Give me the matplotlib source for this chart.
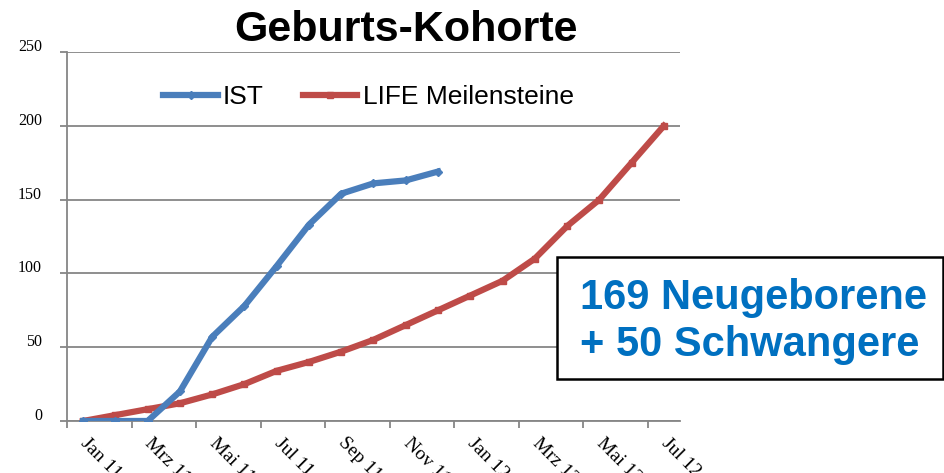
import matplotlib.pyplot as plt
from matplotlib.patches import Rectangle
from matplotlib.transforms import ScaledTranslation

# Monate (Jan 11 bis Jul 12)
monate = ["Jan 11", "Feb 11", "Mrz 11", "Apr 11", "Mai 11", "Jun 11", "Jul 11",
          "Aug 11", "Sep 11", "Okt 11", "Nov 11", "Dez 11", "Jan 12", "Feb 12",
          "Mrz 12", "Apr 12", "Mai 12", "Jun 12", "Jul 12"]

# Ist-Werte (bis Dez 11)
ist = [0, 0, 0, 20, 57, 78, 105, 133, 154, 161, 163, 169]

# Geplante Meilensteine
life = [0, 4, 8, 12, 18, 25, 34, 40, 47, 55, 65, 75, 85, 95, 110, 132, 150, 175, 200]

blau = "#4A7EBB"
rot = "#BE4B48"
grau = "#868686"

fig = plt.figure(figsize=(9.45, 4.73), dpi=100)
ax = fig.add_axes([67 / 945, 1 - 421 / 473, 613 / 945, 369 / 473])

x_ist = list(range(len(ist)))
x_life = list(range(len(life)))

ax.plot(x_life, life, color=rot, linewidth=4.5, marker="s", markersize=5,
        label="LIFE Meilensteine", zorder=3)
ax.plot(x_ist, ist, color=blau, linewidth=4.5, marker="D", markersize=4,
        label="IST", zorder=4)

# Achsen
ax.set_xlim(-0.5, len(monate) - 0.5)
ax.set_ylim(0, 250)
ax.set_yticks([0, 50, 100, 150, 200, 250])
ax.grid(axis="y", color=grau, linewidth=1.3)
ax.set_axisbelow(True)

for s in ["top", "right"]:
    ax.spines[s].set_visible(False)
for s in ["left", "bottom"]:
    ax.spines[s].set_color(grau)
    ax.spines[s].set_linewidth(1.3)

ax.tick_params(axis="y", length=5, color=grau, width=1.3, pad=13,
               labelsize=11.5)
for lab in ax.get_yticklabels():
    lab.set_fontfamily("Liberation Serif")
    lab.set_transform(lab.get_transform() +
                      ScaledTranslation(0, 0.07, fig.dpi_scale_trans))

# Beschriftung jeden zweiten Monat, Striche zwischen den Kategorien
ax.set_xticks(range(0, len(monate), 2))
ax.set_xticklabels(monate[::2], rotation=-45, ha="left", va="center",
                   rotation_mode="anchor", fontfamily="Liberation Serif",
                   fontsize=14)
ax.set_xticks([i - 0.5 for i in range(0, len(monate), 2)], minor=True)
ax.tick_params(axis="x", which="major", length=0, pad=14)
ax.tick_params(axis="x", which="minor", length=5, color=grau, width=1.3)

# Legende
handles, labels = ax.get_legend_handles_labels()
ax.legend(handles[::-1], labels[::-1], ncol=2, frameon=False,
          loc="center", bbox_to_anchor=(0.492, 0.878),
          prop={"family": "Liberation Sans", "size": 19},
          handlelength=2.05, handletextpad=0.2, columnspacing=1.5,
          numpoints=1)

# Titel
fig.text(406 / 945, 1 - 30 / 473, "Geburts-Kohorte", ha="center", va="center",
         fontsize=31, fontweight="bold", fontfamily="Liberation Sans")

# Kasten mit Zahlen
fig.patches.append(Rectangle((557 / 945, 1 - 379 / 473), 386 / 945, 122 / 473,
                             transform=fig.transFigure, facecolor="white",
                             edgecolor="black", linewidth=1.8, zorder=5))
fig.text(580 / 945, 1 - 298 / 473, "169 Neugeborene", ha="left", va="center",
         fontsize=30, fontweight="bold", color="#0070C0",
         fontfamily="Liberation Sans", zorder=6)
fig.text(580 / 945, 1 - 345 / 473, "+ 50 Schwangere", ha="left", va="center",
         fontsize=30, fontweight="bold", color="#0070C0",
         fontfamily="Liberation Sans", zorder=6)

fig.savefig("out.png", dpi=100)
